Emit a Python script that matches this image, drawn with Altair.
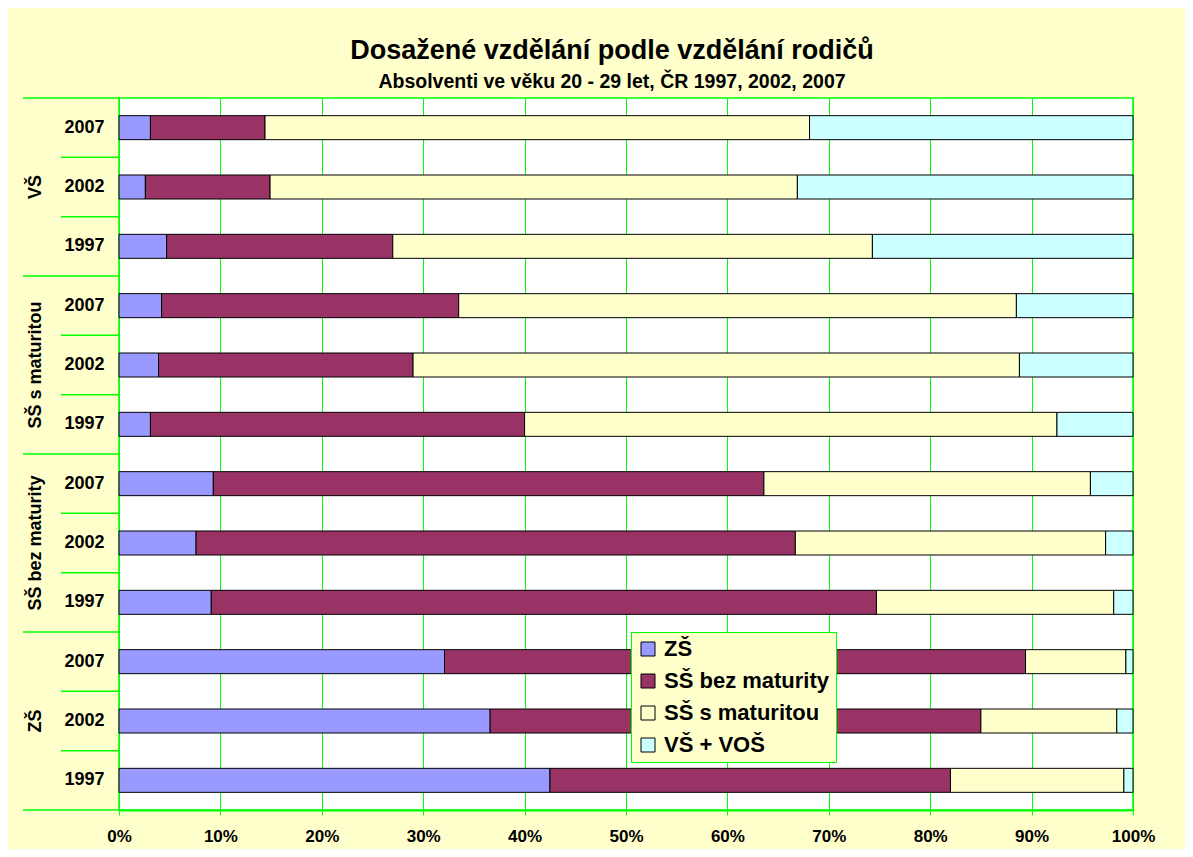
import altair as alt
import pandas as pd

groups = ["VŠ", "SŠ s maturitou", "SŠ bez maturity", "ZŠ"]
years = ["2007", "2002", "1997"]
categories = ["ZŠ", "SŠ bez maturity", "SŠ s maturitou", "VŠ + VOŠ"]
colors = ["#9999FF", "#993366", "#FFFFCC", "#CCFFFF"]

# shares (%) per row, rows ordered group by group (VŠ 2007, VŠ 2002, VŠ 1997, ...)
zs_share = [3.1, 2.6, 4.7, 4.2, 3.9, 3.1, 9.3, 7.6, 9.1, 32.1, 36.6, 42.5]
ssbez_share = [11.3, 12.3, 22.3, 29.3, 25.1, 36.9, 54.3, 59.1, 65.6, 57.3, 48.4, 39.5]
sss_share = [53.7, 52.0, 47.3, 55.0, 59.8, 52.5, 32.2, 30.6, 23.4, 9.9, 13.4, 17.1]
vs_share = [31.9, 33.1, 25.7, 11.5, 11.2, 7.5, 4.2, 2.7, 1.9, 0.7, 1.6, 0.9]

x_ticks = [0, 0.1, 0.2, 0.3, 0.4, 0.5, 0.6, 0.7, 0.8, 0.9, 1.0]

FONT = "Liberation Sans"
GREEN = "#00FF00"

keys = [f"{g}|{y}" for g in groups for y in years]
shares = [zs_share, ssbez_share, sss_share, vs_share]

rows = []
for ri, key in enumerate(keys):
    for ci, cat in enumerate(categories):
        rows.append({"key": key, "category": cat, "ci": ci, "value": shares[ci][ri]})
df = pd.DataFrame(rows)

# group label rows (placed at middle year of each group)
lab_df = pd.DataFrame({"key": [f"{g}|{years[1]}" for g in groups], "label": groups})
# separators: short ones between years, long ones between groups
row_sep = pd.DataFrame({"key": [f"{g}|{y}" for g in groups for y in years[1:]]})
grp_sep = pd.DataFrame({"key": [f"{g}|{years[0]}" for g in groups]})
bot_sep = pd.DataFrame({"key": [f"{groups[-1]}|{years[-1]}"]})

yscale = alt.Scale(domain=keys, paddingInner=0, paddingOuter=0)

y_enc = alt.Y(
    "key:N",
    sort=keys,
    scale=yscale,
    title=None,
    axis=alt.Axis(
        labelExpr="split(datum.value, '|')[1]",
        ticks=False,
        domain=False,
        labelFont=FONT,
        labelFontSize=18,
        labelFontWeight="bold",
        labelColor="black",
        labelPadding=15,
    ),
)

bars = alt.Chart(df).mark_bar(size=24, stroke="black", strokeWidth=1).encode(
    x=alt.X(
        "value:Q",
        stack="normalize",
        scale=alt.Scale(domain=[0, 1]),
        title=None,
        axis=alt.Axis(
            values=x_ticks,
            format=".0%",
            grid=True,
            gridColor=GREEN,
            gridWidth=1,
            domainColor=GREEN,
            domainWidth=2,
            tickColor=GREEN,
            tickSize=5,
            labelFlush=False,
            labelFont=FONT,
            labelFontSize=17,
            labelFontWeight="bold",
            labelColor="black",
            labelPadding=13,
        ),
    ),
    y=y_enc,
    color=alt.Color(
        "category:N",
        scale=alt.Scale(domain=categories, range=colors),
        legend=alt.Legend(
            title=None,
            orient="none",
            legendX=512,
            legendY=534,
            fillColor="#FFFFCC",
            strokeColor=GREEN,
            padding=6,
            symbolType="square",
            symbolSize=196,
            symbolStrokeColor="black",
            symbolStrokeWidth=1,
            symbolOpacity=1,
            labelFont=FONT,
            labelFontSize=22,
            labelFontWeight="bold",
            labelColor="black",
            labelLimit=400,
            rowPadding=10,
            labelOffset=5,
        ),
    ),
    order=alt.Order("ci:Q", sort="ascending"),
)

yk = alt.Y("key:N", sort=keys, scale=yscale, bandPosition=0)

row_rules = alt.Chart(row_sep).mark_rule(color=GREEN, strokeWidth=1.5).encode(
    y=yk, x=alt.value(-58), x2=alt.value(0)
)
grp_rules = alt.Chart(grp_sep).mark_rule(color=GREEN, strokeWidth=1.5).encode(
    y=yk, x=alt.value(-96), x2=alt.value(0)
)
bot_rules = alt.Chart(bot_sep).mark_rule(color=GREEN, strokeWidth=1.5).encode(
    y=alt.Y("key:N", sort=keys, scale=yscale, bandPosition=1),
    x=alt.value(-96),
    x2=alt.value(0),
)

group_labels = alt.Chart(lab_df).mark_text(
    angle=270, align="center", baseline="middle", font=FONT, fontSize=18,
    fontWeight="bold", color="black",
).encode(
    y=alt.Y("key:N", sort=keys, scale=yscale),
    x=alt.value(-83),
    text="label:N",
)

chart = alt.layer(bars, row_rules, grp_rules, bot_rules, group_labels).properties(
    width=1014,
    height=712,
    background="#FFFFCC",
    padding={"left": 111, "top": 90, "right": 52, "bottom": 39},
    autosize=alt.AutoSizeParams(type="none"),
    title=alt.Title(
        "Dosažené vzdělání podle vzdělání rodičů",
        subtitle="Absolventi ve věku 20 - 29 let, ČR 1997, 2002, 2007",
        font=FONT,
        fontSize=27,
        fontWeight="bold",
        color="black",
        subtitleFont=FONT,
        subtitleFontSize=19.5,
        subtitleFontWeight="bold",
        subtitleColor="black",
        anchor="middle",
        dx=-14,
        offset=5,
        subtitlePadding=8,
    ),
).configure_view(fill="white", stroke=GREEN, strokeWidth=1.5)

chart.save("out.html", embed_options={"renderer": "svg", "actions": False})
